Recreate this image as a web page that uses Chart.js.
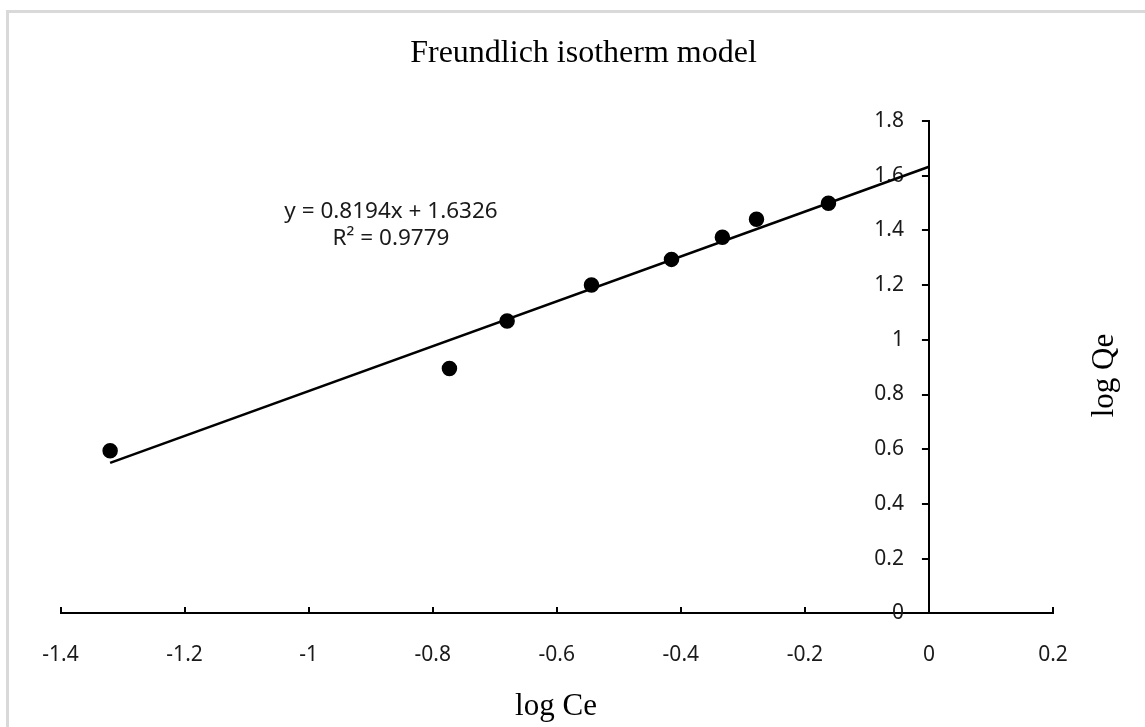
<!DOCTYPE html>
<html>
<head>
<meta charset="utf-8">
<title>Freundlich isotherm model</title>
<script src="https://cdn.jsdelivr.net/npm/chart.js@4.4.1/dist/chart.umd.min.js"></script>
<style>
  html, body { margin: 0; padding: 0; background: #fff; }
  #wrap { width: 1145px; height: 727px; position: relative; }
</style>
</head>
<body>
<div id="wrap"><canvas id="freundlich-chart"></canvas></div>
<script>
// measured points (log Ce, log Qe)
const logCe = [-1.320, -0.773, -0.680, -0.544, -0.415, -0.333, -0.278, -0.162];
const logQe = [0.594, 0.895, 1.069, 1.200, 1.294, 1.375, 1.441, 1.499];

// linear trendline as drawn in the picture
const trendX = [-1.32, 0];
const trendY = [0.55, 1.633];

const xTickValues = [-1.4, -1.2, -1, -0.8, -0.6, -0.4, -0.2, 0, 0.2];
const yTickValues = [0, 0.2, 0.4, 0.6, 0.8, 1, 1.2, 1.4, 1.6, 1.8];

const titleText = 'Freundlich isotherm model';
const xTitle = 'log Ce';
const yTitle = 'log Qe';
const equationLines = ['y = 0.8194x + 1.6326', 'R² = 0.9779'];

const SERIF = '"Liberation Serif", "Times New Roman", serif';
const SANS = '"Noto Sans", "Open Sans", sans-serif';

const fmt = v => String(Math.round(v * 10) / 10);

// frame, title, axis titles and trendline label
const chartText = {
  id: 'chartText',
  afterLayout(chart) {
    // y axis crosses the x axis at 0, labels stay on its left
    const y = chart.scales.y;
    const px = chart.scales.x.getPixelForValue(0);
    y.left = px - 60;
    y.right = px;
    y.width = 60;
  },
  beforeDraw(chart) {
    const ctx = chart.ctx;
    ctx.save();
    ctx.strokeStyle = '#d9d9d9';
    ctx.lineWidth = 3;
    ctx.strokeRect(7.5, 11.5, chart.width + 20, chart.height + 20);
    ctx.restore();
  },
  afterDraw(chart) {
    const ctx = chart.ctx;
    ctx.save();
    ctx.fillStyle = '#000';
    ctx.textAlign = 'center';
    ctx.textBaseline = 'alphabetic';

    ctx.font = '32px ' + SERIF;
    ctx.fillText(titleText, 583.5, 62);

    ctx.font = '31px ' + SERIF;
    ctx.fillText(xTitle, 556, 715);

    ctx.save();
    ctx.translate(1113, 375.5);
    ctx.rotate(-Math.PI / 2);
    ctx.fillText(yTitle, 0, 0);
    ctx.restore();

    ctx.font = '22.5px ' + SANS;
    ctx.fillStyle = '#1a1a1a';
    equationLines.forEach((line, i) => ctx.fillText(line, 391, 218 + i * 27));
    ctx.restore();
  }
};

function renderChart() {
  const canvas = document.getElementById('freundlich-chart');
  if (!canvas) return;
  new Chart(canvas, {
    type: 'scatter',
    data: {
      datasets: [
        {
          label: 'log Qe',
          data: logCe.map((x, i) => ({ x, y: logQe[i] })),
          backgroundColor: '#000',
          borderColor: '#000',
          pointRadius: 7,
          pointBorderWidth: 1.5,
          pointHoverRadius: 7,
        },
        {
          label: 'Linear (log Qe)',
          type: 'line',
          data: trendX.map((x, i) => ({ x, y: trendY[i] })),
          borderColor: '#000',
          borderWidth: 2.6,
          pointRadius: 0,
          fill: false,
          tension: 0,
        },
      ],
    },
    options: {
      responsive: true,
      maintainAspectRatio: false,
      animation: false,
      layout: { padding: { left: 60.5, right: 92, top: 121, bottom: 113.7 } },
      plugins: {
        legend: { display: false },
        tooltip: { enabled: false },
      },
      scales: {
        x: {
          type: 'linear',
          position: { y: 0 },
          min: -1.4,
          max: 0.2,
          afterBuildTicks: axis => { axis.ticks = xTickValues.map(value => ({ value })); },
          grid: { drawOnChartArea: false, drawTicks: true, tickLength: -7, color: '#000', lineWidth: 2 },
          border: { display: true, color: '#000', width: 2 },
          ticks: {
            callback: fmt,
            color: '#1a1a1a',
            padding: 36,
            maxRotation: 0,
            autoSkip: false,
            font: { family: SANS, size: 21 },
          },
        },
        y: {
          type: 'linear',
          position: 'left',
          min: 0,
          max: 1.8,
          afterFit: scale => { scale.width = 0; },
          afterBuildTicks: axis => { axis.ticks = yTickValues.map(value => ({ value })); },
          grid: { drawOnChartArea: false, drawTicks: true, tickLength: 7, color: '#000', lineWidth: 2 },
          border: { display: true, color: '#000', width: 2 },
          ticks: {
            callback: fmt,
            color: '#1a1a1a',
            padding: 18,
            autoSkip: false,
            font: { family: SANS, size: 21 },
          },
        },
      },
    },
    plugins: [chartText],
  });
}

document.addEventListener('DOMContentLoaded', renderChart);
</script>
</body>
</html>
